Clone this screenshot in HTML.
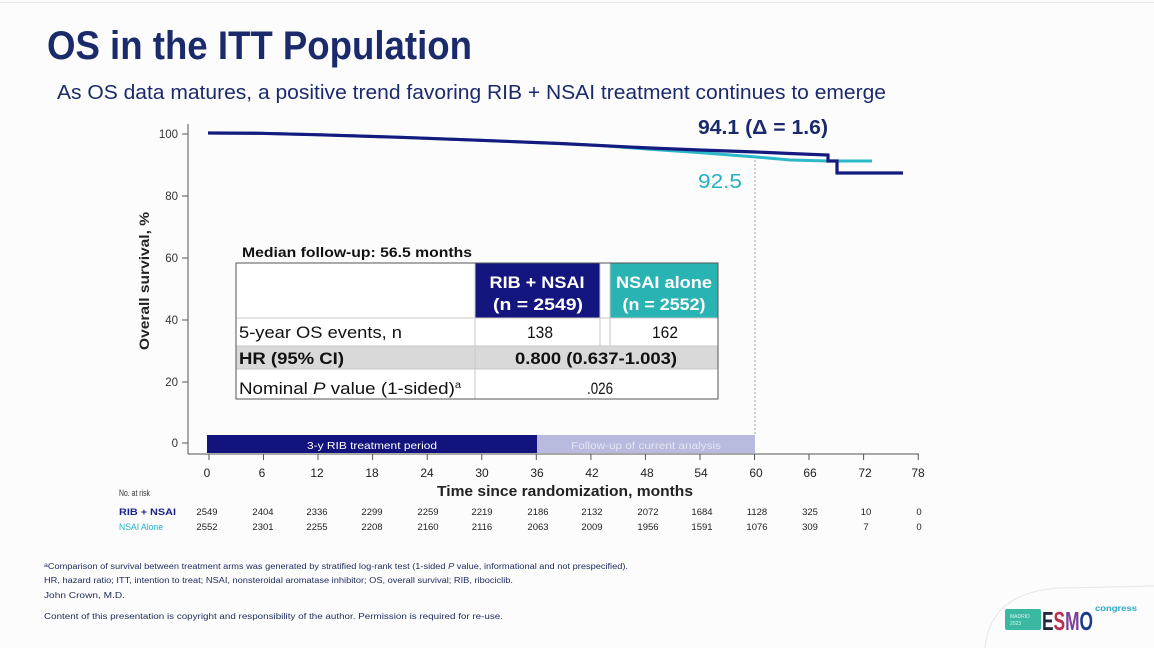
<!DOCTYPE html>
<html><head><meta charset="utf-8"><style>
html,body{margin:0;padding:0;background:#fcfcfd;}
svg{display:block;font-family:"Liberation Sans",Arial,sans-serif;}
</style></head><body>
<svg width="1154" height="648" viewBox="0 0 1154 648" xmlns="http://www.w3.org/2000/svg">
<rect x="0" y="0" width="1154" height="648" fill="#fcfcfd"/>
<line x1="0" y1="2.5" x2="1154" y2="2.5" stroke="#ececf0" stroke-width="1"/>
<path d="M985,648 Q990,592 1060,588 L1154,586" fill="none" stroke="#e8e9ee" stroke-width="1.2"/>

<!-- Title -->
<text x="47" y="59" font-size="40" font-weight="bold" fill="#1b2a6b" textLength="425" lengthAdjust="spacingAndGlyphs">OS in the ITT Population</text>
<text x="57" y="99" font-size="20" fill="#1b2a6b" textLength="829" lengthAdjust="spacingAndGlyphs">As OS data matures, a positive trend favoring RIB + NSAI treatment continues to emerge</text>

<!-- axes -->
<line x1="188" y1="124" x2="188" y2="454" stroke="#555" stroke-width="1"/>
<line x1="188" y1="454" x2="919" y2="454" stroke="#555" stroke-width="1"/>
<g stroke="#555" stroke-width="1">
<line x1="182" y1="134" x2="188" y2="134"/>
<line x1="182" y1="196" x2="188" y2="196"/>
<line x1="182" y1="258" x2="188" y2="258"/>
<line x1="182" y1="320" x2="188" y2="320"/>
<line x1="182" y1="382" x2="188" y2="382"/>
<line x1="182" y1="443" x2="188" y2="443"/>
</g>
<g font-size="11.5" fill="#333" text-anchor="end">
<text x="178" y="138">100</text>
<text x="178" y="200">80</text>
<text x="178" y="262">60</text>
<text x="178" y="324">40</text>
<text x="178" y="386">20</text>
<text x="178" y="447">0</text>
</g>
<text transform="translate(149,281) rotate(-90)" font-size="14" font-weight="bold" fill="#222" text-anchor="middle" textLength="138" lengthAdjust="spacingAndGlyphs">Overall survival, %</text>

<!-- x ticks -->
<g stroke="#555" stroke-width="1">
<line x1="209" y1="454" x2="209" y2="460"/>
<line x1="263.5" y1="454" x2="263.5" y2="460"/>
<line x1="318" y1="454" x2="318" y2="460"/>
<line x1="372.6" y1="454" x2="372.6" y2="460"/>
<line x1="427.2" y1="454" x2="427.2" y2="460"/>
<line x1="481.8" y1="454" x2="481.8" y2="460"/>
<line x1="536.3" y1="454" x2="536.3" y2="460"/>
<line x1="590.9" y1="454" x2="590.9" y2="460"/>
<line x1="645.4" y1="454" x2="645.4" y2="460"/>
<line x1="700" y1="454" x2="700" y2="460"/>
<line x1="754.5" y1="454" x2="754.5" y2="460"/>
<line x1="809" y1="454" x2="809" y2="460"/>
<line x1="863.6" y1="454" x2="863.6" y2="460"/>
<line x1="918.2" y1="454" x2="918.2" y2="460"/>
</g>
<g font-size="12" fill="#222" text-anchor="middle">
<text x="207" y="477">0</text>
<text x="262" y="477">6</text>
<text x="317" y="477">12</text>
<text x="372" y="477">18</text>
<text x="427" y="477">24</text>
<text x="482" y="477">30</text>
<text x="537" y="477">36</text>
<text x="592" y="477">42</text>
<text x="647" y="477">48</text>
<text x="701" y="477">54</text>
<text x="756" y="477">60</text>
<text x="810" y="477">66</text>
<text x="865" y="477">72</text>
<text x="918" y="477">78</text>
</g>
<text x="437" y="496" font-size="15" font-weight="bold" fill="#222" textLength="256" lengthAdjust="spacingAndGlyphs">Time since randomization, months</text>

<!-- bars -->
<rect x="207" y="435" width="330" height="18" fill="#13137e"/>
<rect x="537" y="435" width="218" height="18" fill="#b8bade"/>
<text x="372" y="449" font-size="10.5" fill="#ffffff" text-anchor="middle" textLength="130" lengthAdjust="spacingAndGlyphs">3-y RIB treatment period</text>
<text x="646" y="449" font-size="10.5" fill="#e4e5f4" text-anchor="middle" textLength="150" lengthAdjust="spacingAndGlyphs">Follow-up of current analysis</text>

<!-- dashed line -->
<line x1="755" y1="160" x2="755" y2="435" stroke="#8a8a8a" stroke-width="0.8" stroke-dasharray="2,2"/>

<!-- curves -->
<path d="M208,133 L260,133.3 L320,134.8 L400,137.3 L480,140.3 L560,143.5 L600,145.5 L650,149.3 L700,152.6 L756,157 L790,160 L828,161 L872,161" fill="none" stroke="#2bb8c8" stroke-width="3"/>
<path d="M208,133 L260,133.3 L320,134.8 L400,137.3 L480,140.3 L560,143.5 L650,148 L700,150 L756,152 L790,153.5 L828,155 L828,161 L837,161 L837,173 L903,173" fill="none" stroke="#141a7e" stroke-width="3.2"/>

<!-- annotations -->
<text x="698" y="134" font-size="20" font-weight="bold" fill="#1b2a6b" textLength="130" lengthAdjust="spacingAndGlyphs">94.1 (Δ = 1.6)</text>
<text x="698" y="188" font-size="20" fill="#22b0c4" textLength="44" lengthAdjust="spacingAndGlyphs">92.5</text>

<!-- table -->
<text x="242" y="257" font-size="14" font-weight="bold" fill="#111" textLength="230" lengthAdjust="spacingAndGlyphs">Median follow-up: 56.5 months</text>
<rect x="236" y="263" width="482" height="136" fill="#ffffff"/>
<rect x="475" y="263" width="125" height="55" fill="#14157e"/>
<rect x="610" y="263" width="108" height="55" fill="#2ab3b3"/>
<rect x="236" y="346" width="482" height="23" fill="#d9d9d9"/>
<g stroke="#c8c8c8" stroke-width="1" fill="none">
<line x1="236" y1="318" x2="718" y2="318"/>
<line x1="236" y1="346" x2="718" y2="346"/>
<line x1="236" y1="369" x2="718" y2="369"/>
<line x1="475" y1="263" x2="475" y2="399"/>
<line x1="600" y1="263" x2="600" y2="346"/>
<line x1="610" y1="263" x2="610" y2="346"/>
</g>
<rect x="236" y="263" width="482" height="136" fill="none" stroke="#555" stroke-width="1"/>
<g font-weight="bold" fill="#ffffff" font-size="17" text-anchor="middle">
<text x="537" y="288" textLength="95" lengthAdjust="spacingAndGlyphs">RIB + NSAI</text>
<text x="538" y="310" textLength="90" lengthAdjust="spacingAndGlyphs">(n = 2549)</text>
<text x="664" y="288" textLength="96" lengthAdjust="spacingAndGlyphs">NSAI alone</text>
<text x="664" y="310" textLength="83" lengthAdjust="spacingAndGlyphs">(n = 2552)</text>
</g>
<g font-size="17" fill="#111">
<text x="239" y="338" textLength="163" lengthAdjust="spacingAndGlyphs">5-year OS events, n</text>
<text x="540" y="338" text-anchor="middle" textLength="26" lengthAdjust="spacingAndGlyphs">138</text>
<text x="665" y="338" text-anchor="middle" textLength="26" lengthAdjust="spacingAndGlyphs">162</text>
<text x="239" y="364" font-weight="bold" textLength="105" lengthAdjust="spacingAndGlyphs">HR (95% CI)</text>
<text x="596" y="364" font-weight="bold" text-anchor="middle" textLength="162" lengthAdjust="spacingAndGlyphs">0.800 (0.637-1.003)</text>
<text x="239" y="394" textLength="222" lengthAdjust="spacingAndGlyphs">Nominal <tspan font-style="italic">P</tspan> value (1-sided)<tspan font-size="10" dy="-6">a</tspan></text>
<text x="600" y="394" text-anchor="middle" textLength="26" lengthAdjust="spacingAndGlyphs">.026</text>
</g>

<!-- risk table -->
<text x="119" y="496" font-size="9" fill="#333" textLength="31" lengthAdjust="spacingAndGlyphs">No. at risk</text>
<text x="119" y="515" font-size="9" font-weight="bold" fill="#1b1f8a" textLength="57" lengthAdjust="spacingAndGlyphs">RIB + NSAI</text>
<text x="119" y="530" font-size="9" fill="#22b0c4" textLength="44" lengthAdjust="spacingAndGlyphs">NSAI Alone</text>
<g font-size="9.5" fill="#222" text-anchor="middle">
<text x="207" y="515">2549</text><text x="263" y="515">2404</text><text x="317" y="515">2336</text><text x="372" y="515">2299</text><text x="428" y="515">2259</text><text x="482" y="515">2219</text><text x="538" y="515">2186</text><text x="592" y="515">2132</text><text x="648" y="515">2072</text><text x="702" y="515">1684</text><text x="757" y="515">1128</text><text x="810" y="515">325</text><text x="866" y="515">10</text><text x="919" y="515">0</text>
<text x="207" y="530">2552</text><text x="263" y="530">2301</text><text x="317" y="530">2255</text><text x="372" y="530">2208</text><text x="428" y="530">2160</text><text x="482" y="530">2116</text><text x="538" y="530">2063</text><text x="592" y="530">2009</text><text x="648" y="530">1956</text><text x="702" y="530">1591</text><text x="757" y="530">1076</text><text x="810" y="530">309</text><text x="866" y="530">7</text><text x="919" y="530">0</text>
</g>

<!-- footnotes -->
<g font-size="8" fill="#1c2a5a">
<text x="44" y="569" textLength="584" lengthAdjust="spacingAndGlyphs"><tspan font-size="6" dy="-2">a</tspan><tspan dy="2">Comparison of survival between treatment arms was generated by stratified log-rank test (1-sided </tspan><tspan font-style="italic">P</tspan> value, informational and not prespecified).</text>
<text x="44" y="583" textLength="469" lengthAdjust="spacingAndGlyphs">HR, hazard ratio; ITT, intention to treat; NSAI, nonsteroidal aromatase inhibitor; OS, overall survival; RIB, ribociclib.</text>
<text x="44" y="598" textLength="81" lengthAdjust="spacingAndGlyphs">John Crown, M.D.</text>
<text x="44" y="619" textLength="459" lengthAdjust="spacingAndGlyphs">Content of this presentation is copyright and responsibility of the author. Permission is required for re-use.</text>
</g>

<!-- ESMO logo -->
<rect x="1005" y="609" width="36" height="21" rx="2" fill="#3bb8a2"/>
<text x="1010" y="618" font-size="5" fill="#d8f3ee">MADRID</text>
<text x="1010" y="625" font-size="5" fill="#d8f3ee">2023</text>
<text x="1042" y="630" font-size="26" font-weight="bold" textLength="51" lengthAdjust="spacingAndGlyphs"><tspan fill="#1e2a3c">E</tspan><tspan fill="#b8304c">S</tspan><tspan fill="#7a3d9a">M</tspan><tspan fill="#1a3c8a">O</tspan></text>
<text x="1095" y="611" font-size="8" font-weight="bold" fill="#2aa8c8" textLength="42" lengthAdjust="spacingAndGlyphs">congress</text>
</svg>
</body></html>
